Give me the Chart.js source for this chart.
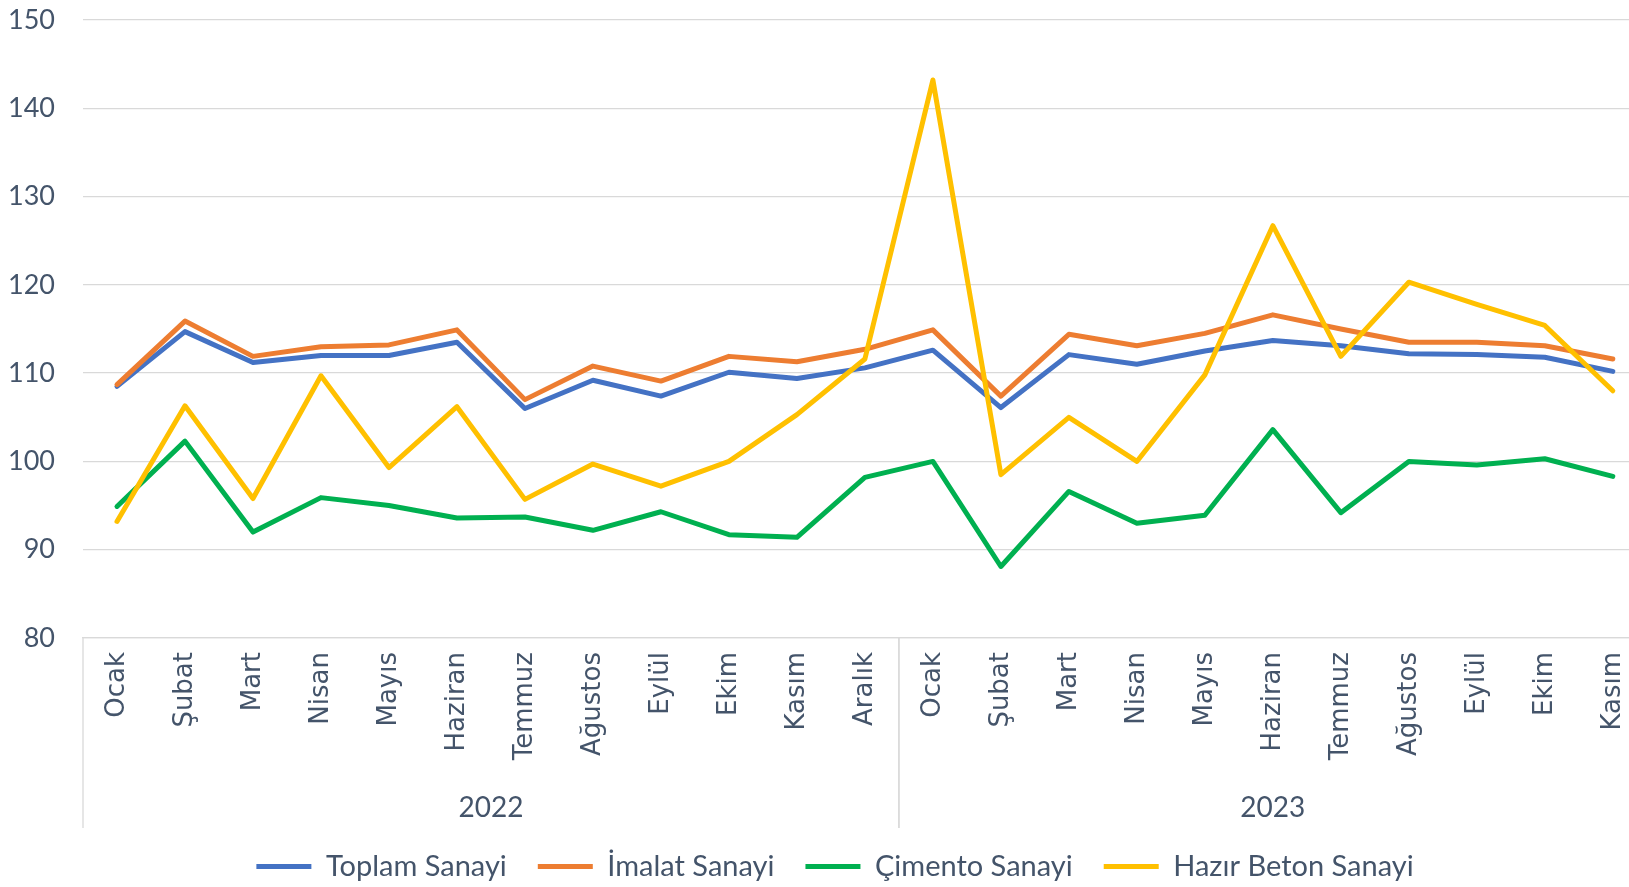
<!DOCTYPE html>
<html lang="tr">
<head>
<meta charset="utf-8">
<title>Sanayi Üretim Endeksi</title>
<script src="https://cdn.jsdelivr.net/npm/chart.js@4.4.1/dist/chart.umd.min.js"></script>
<style>
  html, body { margin: 0; padding: 0; background: #fff; }
  /* grafik sağdan kesik: tuval daha geniş, görünen alan 1629px */
  #clip { position: relative; width: 1629px; height: 887px; overflow: hidden; }
  #chart { display: block; }
</style>
</head>
<body>
<div id="clip"><canvas id="chart" width="1658" height="887"></canvas></div>
<script>
/* ── Veri ─────────────────────────────────────────────────── */

const months = [
  'Ocak', 'Şubat', 'Mart', 'Nisan', 'Mayıs', 'Haziran', 'Temmuz', 'Ağustos', 'Eylül', 'Ekim', 'Kasım', 'Aralık',
  'Ocak', 'Şubat', 'Mart', 'Nisan', 'Mayıs', 'Haziran', 'Temmuz', 'Ağustos', 'Eylül', 'Ekim', 'Kasım',
];
const years = ['2022', '2023'];
const monthsPerYear = [12, 11];

const toplamSanayi = [108.5, 114.7, 111.2, 112.0, 112.0, 113.5, 106.0, 109.2, 107.4, 110.1, 109.4, 110.6,
  112.6, 106.1, 112.1, 111.0, 112.5, 113.7, 113.1, 112.2, 112.1, 111.8, 110.2];
const imalatSanayi = [108.7, 115.9, 111.9, 113.0, 113.2, 114.9, 107.0, 110.8, 109.1, 111.9, 111.3, 112.7,
  114.9, 107.4, 114.4, 113.1, 114.5, 116.6, 115.0, 113.5, 113.5, 113.1, 111.6];
const cimentoSanayi = [94.9, 102.3, 92.0, 95.9, 95.0, 93.6, 93.7, 92.2, 94.3, 91.7, 91.4, 98.2,
  100.0, 88.1, 96.6, 93.0, 93.9, 103.6, 94.2, 100.0, 99.6, 100.3, 98.3];
const hazirBetonSanayi = [93.2, 106.3, 95.8, 109.7, 99.3, 106.2, 95.7, 99.7, 97.2, 100.0, 105.3, 111.6,
  143.2, 98.5, 105.0, 100.0, 109.8, 126.7, 111.9, 120.3, 117.8, 115.4, 108.0];

const yMin = 80;
const yMax = 150;
const yStep = 10;

/* ── Stil ─────────────────────────────────────────────────── */

const TEXT_COLOR = '#44546A';
const GRID_COLOR = '#D9D9D9';
const NUM_FONT = 'Lato, "Open Sans", sans-serif';
const LABEL_FONT = '"DejaVu Sans", sans-serif';

const LEGEND_FONT = 29;
const LEGEND_PAD = 31;
// x ekseni alanı: çizim alanı altı 638px olacak şekilde
const X_AXIS_HEIGHT = 887 - (LEGEND_FONT + LEGEND_PAD + 10) - 638;

function lineDataset(label, data, color, order) {
  return {
    label,
    data,
    borderColor: color,
    backgroundColor: color,
    borderWidth: 5,
    borderJoinStyle: 'round',
    borderCapStyle: 'round',
    pointRadius: 0,
    pointHoverRadius: 0,
    tension: 0,
    fill: false,
    order,
  };
}

/* ── Yıl grupları + ayraç çizgileri ───────────────────────── */

const yearGroups = {
  id: 'yearGroups',
  afterDraw(chart) {
    const x = chart.scales.x;
    const ctx = chart.ctx;
    const half = (x.getPixelForValue(1) - x.getPixelForValue(0)) / 2;
    const top = x.top;
    const bottom = x.top + 190;

    ctx.save();
    ctx.strokeStyle = GRID_COLOR;
    ctx.lineWidth = 1.3;
    ctx.fillStyle = TEXT_COLOR;
    ctx.font = '28px ' + NUM_FONT;
    ctx.textAlign = 'center';
    ctx.textBaseline = 'middle';

    let start = 0;
    years.forEach((year, i) => {
      const end = start + monthsPerYear[i] - 1;
      const left = x.getPixelForValue(start) - half;
      const right = x.getPixelForValue(end) + half;
      [left, right].forEach((px) => {
        ctx.beginPath();
        ctx.moveTo(px, top);
        ctx.lineTo(px, bottom);
        ctx.stroke();
      });
      ctx.fillText(year, (left + right) / 2, top + 170);
      start = end + 1;
    });
    ctx.restore();
  },
};

/* lejantı görünen alanın ortasına kaydır */
const legendShift = {
  id: 'legendShift',
  afterLayout(chart) {
    const lg = chart.legend;
    if (!lg) return;
    lg.left += 6;
    lg.right += 6;
    lg.top += 4;
    lg.bottom += 4;
  },
};

/* ── Grafik ───────────────────────────────────────────────── */

new Chart(document.getElementById('chart'), {
  type: 'line',
  data: {
    labels: months,
    datasets: [
      lineDataset('Toplam Sanayi', toplamSanayi, '#4472C4', 4),
      lineDataset('İmalat Sanayi', imalatSanayi, '#ED7D31', 3),
      lineDataset('Çimento Sanayi', cimentoSanayi, '#00B050', 2),
      lineDataset('Hazır Beton Sanayi', hazirBetonSanayi, '#FFC000', 1),
    ],
  },
  options: {
    responsive: false,
    animation: false,
    layout: { padding: { top: 20, left: 0, right: 0, bottom: 0 } },
    plugins: {
      legend: {
        position: 'bottom',
        labels: {
          usePointStyle: true,
          pointStyle: 'line',
          pointStyleWidth: 55,
          boxHeight: LEGEND_FONT,
          padding: LEGEND_PAD,
          color: TEXT_COLOR,
          font: { family: NUM_FONT, size: LEGEND_FONT },
          sort: (a, b) => a.datasetIndex - b.datasetIndex,
        },
      },
      tooltip: { enabled: false },
    },
    scales: {
      x: {
        offset: true,
        grid: { display: false, drawTicks: false },
        border: { display: true, color: GRID_COLOR, width: 1.3 },
        ticks: {
          autoSkip: false,
          minRotation: 90,
          maxRotation: 90,
          padding: 14,
          color: TEXT_COLOR,
          font: { family: LABEL_FONT, size: 26 },
        },
        afterFit(scale) { scale.height = X_AXIS_HEIGHT; },
      },
      y: {
        min: yMin,
        max: yMax,
        grid: {
          color: GRID_COLOR,
          lineWidth: 1.3,
          drawTicks: true,
          tickLength: 28,
          tickColor: 'rgba(0,0,0,0)',
        },
        border: { display: false },
        ticks: {
          stepSize: yStep,
          padding: 0,
          color: TEXT_COLOR,
          font: { family: NUM_FONT, size: 27 },
        },
        afterFit(scale) { scale.width = 83; },
      },
    },
  },
  plugins: [yearGroups, legendShift],
});
</script>
</body>
</html>
